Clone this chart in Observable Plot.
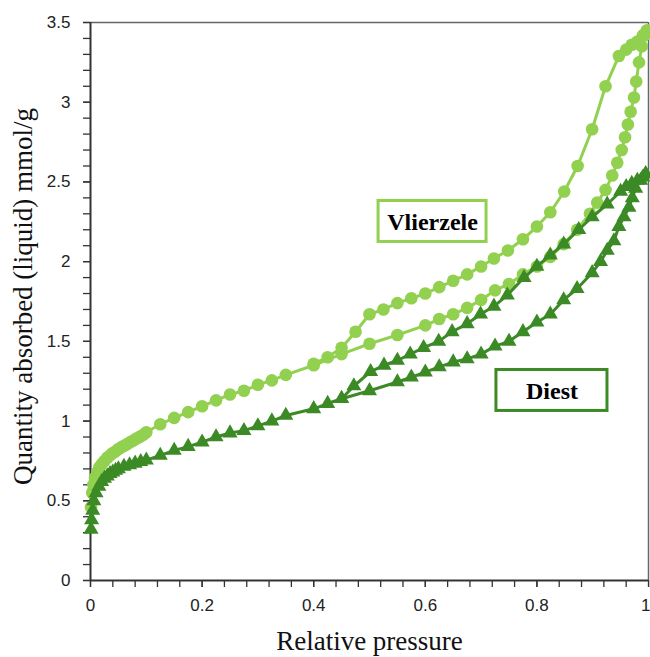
<!DOCTYPE html>
<html>
<head>
<meta charset="utf-8">
<script src="https://cdn.jsdelivr.net/npm/d3@7"></script>
<script src="https://cdn.jsdelivr.net/npm/@observablehq/plot@0.6"></script>
<style>
  html, body { margin: 0; padding: 0; background: #fff; }
</style>
</head>
<body>
<script>
// ---- Vlierzele (light green, circles) ----
const vlierzeleAdsX = [0.001,0.003,0.005,0.008,0.012,0.016,0.02,0.025,0.03,0.035,0.04,0.045,0.05,0.055,0.06,0.065,0.07,0.075,0.08,0.085,0.09,0.095,0.1,0.125,0.15,0.175,0.2,0.225,0.25,0.275,0.3,0.325,0.35,0.4,0.45,0.5,0.55,0.6,0.625,0.65,0.675,0.7,0.725,0.75,0.775,0.8,0.824,0.848,0.872,0.895,0.908,0.923,0.935,0.944,0.952,0.958,0.963,0.968,0.974,0.978,0.983,0.988,0.993,0.997];
const vlierzeleAdsY = [0.46,0.55,0.60,0.645,0.68,0.71,0.73,0.75,0.77,0.785,0.80,0.81,0.825,0.835,0.845,0.855,0.865,0.875,0.885,0.895,0.905,0.915,0.93,0.98,1.02,1.056,1.093,1.13,1.167,1.19,1.228,1.255,1.29,1.35,1.42,1.485,1.54,1.60,1.64,1.67,1.71,1.76,1.82,1.86,1.92,1.97,2.03,2.11,2.2,2.30,2.37,2.45,2.54,2.62,2.70,2.78,2.86,2.94,3.03,3.13,3.25,3.35,3.42,3.45];
const vlierzeleDesX = [0.997,0.99,0.98,0.97,0.96,0.947,0.923,0.899,0.873,0.849,0.824,0.8,0.775,0.748,0.723,0.7,0.675,0.65,0.625,0.6,0.575,0.55,0.525,0.5,0.475,0.45,0.425,0.4];
const vlierzeleDesY = [3.45,3.42,3.38,3.36,3.33,3.29,3.1,2.83,2.6,2.44,2.31,2.22,2.14,2.07,2.02,1.97,1.92,1.88,1.84,1.80,1.77,1.74,1.70,1.67,1.56,1.46,1.40,1.36];

// ---- Diest (dark green, triangles) ----
const diestAdsX = [0.001,0.002,0.004,0.006,0.01,0.015,0.02,0.025,0.03,0.035,0.04,0.045,0.05,0.06,0.07,0.08,0.09,0.1,0.125,0.15,0.175,0.2,0.225,0.25,0.275,0.3,0.325,0.35,0.4,0.425,0.45,0.5,0.55,0.575,0.6,0.625,0.65,0.675,0.7,0.725,0.75,0.775,0.8,0.824,0.848,0.872,0.899,0.914,0.926,0.938,0.947,0.956,0.965,0.971,0.977,0.986,0.995];
const diestAdsY = [0.32,0.38,0.44,0.50,0.55,0.59,0.62,0.64,0.655,0.67,0.68,0.69,0.70,0.715,0.725,0.735,0.745,0.755,0.784,0.816,0.84,0.868,0.9,0.925,0.94,0.97,1.0,1.035,1.077,1.11,1.14,1.19,1.245,1.275,1.307,1.34,1.37,1.39,1.42,1.47,1.5,1.56,1.62,1.67,1.76,1.83,1.93,2.0,2.07,2.13,2.22,2.28,2.34,2.40,2.46,2.51,2.55];
const diestDesX = [0.995,0.99,0.98,0.97,0.96,0.95,0.926,0.899,0.875,0.848,0.824,0.8,0.777,0.747,0.723,0.699,0.675,0.648,0.624,0.597,0.573,0.55,0.526,0.502,0.472,0.45];
const diestDesY = [2.55,2.53,2.51,2.49,2.47,2.44,2.36,2.28,2.2,2.11,2.04,1.97,1.90,1.79,1.72,1.67,1.61,1.56,1.50,1.46,1.42,1.38,1.35,1.31,1.22,1.14];

// ---- ticks ----
const xMajorTicks = [0, 0.2, 0.4, 0.6, 0.8];
const xLastTick = [1];
const yMajorTicks = [0, 0.5, 1, 1.5, 2, 2.5, 3, 3.5];
const xMinorTicks = d3.range(0, 26).map(i => +(i * 0.04).toFixed(2));
const yMinorTicks = d3.range(0, 36).map(i => +(i * 0.1).toFixed(1));

// ---- annotation labels ----
const labelNames = ["Vlierzele", "Diest"];
const labelCX = [0.613, 0.827];
const labelCY = [2.252, 1.192];
const labelW = [0.1935, 0.199];
const labelH = [0.257, 0.257];

const lightGreen = "#92d050";
const darkGreen = "#3b8a25";

const pts = (xs, ys) => xs.map((x, i) => ({x, y: ys[i]}));
const vA = pts(vlierzeleAdsX, vlierzeleAdsY);
const vD = pts(vlierzeleDesX, vlierzeleDesY);
const dA = pts(diestAdsX, diestAdsY);
const dD = pts(diestDesX, diestDesY);

const labels = labelNames.map((name, i) => ({
  name, cx: labelCX[i], cy: labelCY[i],
  x1: labelCX[i] - labelW[i] / 2, x2: labelCX[i] + labelW[i] / 2,
  y1: labelCY[i] - labelH[i] / 2, y2: labelCY[i] + labelH[i] / 2,
  color: i === 0 ? lightGreen : darkGreen
}));

const serif = "'Liberation Serif', 'Times New Roman', serif";

const chart = Plot.plot({
  width: 650,
  height: 657,
  marginLeft: 90,
  marginRight: 2,
  marginTop: 22,
  marginBottom: 77,
  x: {domain: [0, 1]},
  y: {domain: [0, 3.5]},
  style: {fontFamily: "'Liberation Sans', Arial, sans-serif", fontSize: "17px", color: "#333", background: "#fff"},
  marks: [
    // frame
    Plot.ruleY([3.5], {stroke: "#666", strokeWidth: 1.5}),
    Plot.ruleX([1], {stroke: "#666", strokeWidth: 1.5}),
    // axes
    Plot.axisX(xMinorTicks, {tickSize: 7, tickFormat: () => "", label: null, strokeWidth: 1.3}),
    Plot.axisX(xMajorTicks, {tickSize: 7, tickPadding: 11, tickFormat: d3.format("~g"), label: null, strokeWidth: 1.3, fill: "#222"}),
    Plot.axisX(xLastTick, {tickSize: 7, tickPadding: 11, tickFormat: d3.format("~g"), label: null, strokeWidth: 1.3, fill: "#222", textAnchor: "end", dx: 2}),
    Plot.axisY(yMinorTicks, {tickSize: 7, tickFormat: () => "", label: null, strokeWidth: 1.3}),
    Plot.axisY(yMajorTicks, {tickSize: 7, tickPadding: 13, tickFormat: d3.format("~g"), label: null, strokeWidth: 1.3, fill: "#222"}),
    Plot.ruleX([0], {stroke: "#333", strokeWidth: 2}),
    Plot.ruleY([0], {stroke: "#333", strokeWidth: 2}),
    // axis titles
    Plot.text(["Quantity absorbed (liquid) mmol/g"], {frameAnchor: "left", textAnchor: "middle", lineAnchor: "middle", rotate: -90, dx: -67, dy: -5, fontFamily: serif, fontSize: 27, fill: "#111"}),
    Plot.text(["Relative pressure"], {frameAnchor: "bottom", textAnchor: "middle", lineAnchor: "middle", dy: 61, fontFamily: serif, fontSize: 27, fill: "#111"}),
    // Vlierzele
    Plot.line(vA, {x: "x", y: "y", stroke: lightGreen, strokeWidth: 3}),
    Plot.line(vD, {x: "x", y: "y", stroke: lightGreen, strokeWidth: 3}),
    Plot.dot(vA, {x: "x", y: "y", r: 6.3, fill: lightGreen, stroke: "none"}),
    Plot.dot(vD, {x: "x", y: "y", r: 6.3, fill: lightGreen, stroke: "none"}),
    // Diest
    Plot.line(dA, {x: "x", y: "y", stroke: darkGreen, strokeWidth: 3}),
    Plot.line(dD, {x: "x", y: "y", stroke: darkGreen, strokeWidth: 3}),
    Plot.dot(dA, {x: "x", y: "y", r: 5.6, symbol: "triangle", fill: darkGreen, stroke: "none"}),
    Plot.dot(dD, {x: "x", y: "y", r: 5.6, symbol: "triangle", fill: darkGreen, stroke: "none"}),
    // labels
    Plot.rect(labels, {x1: "x1", x2: "x2", y1: "y1", y2: "y2", fill: "#fff", stroke: "color", strokeWidth: 3}),
    Plot.text(labels, {x: "cx", y: "cy", text: "name", fontFamily: serif, fontWeight: "bold", fontSize: 24, fill: "#000", dy: 1})
  ]
});

document.body.appendChild(chart);
</script>
</body>
</html>
